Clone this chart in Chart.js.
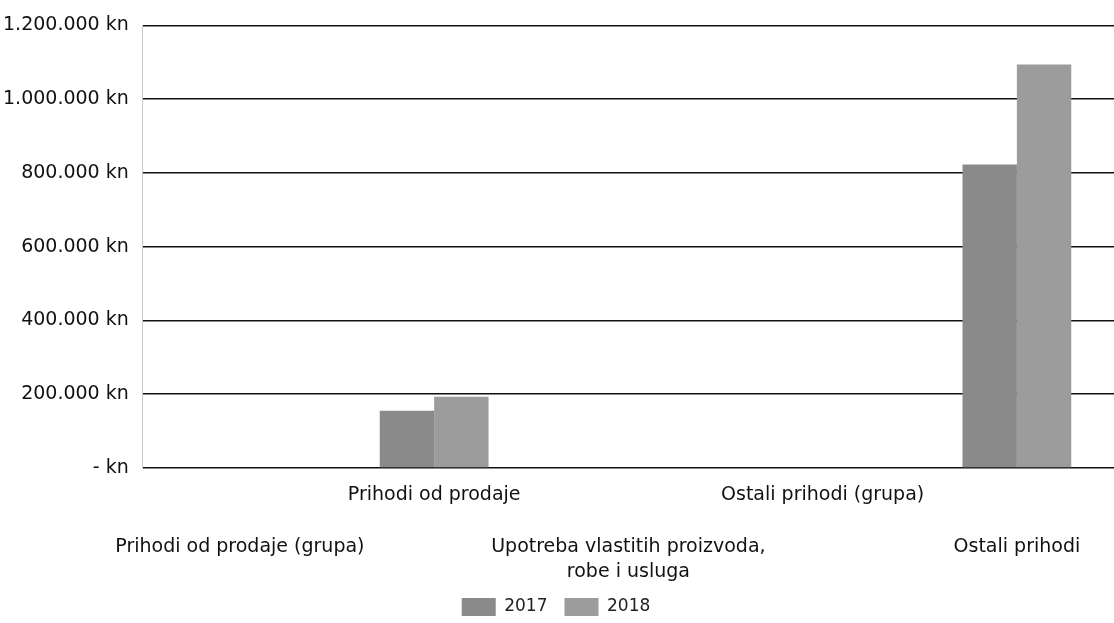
<!DOCTYPE html>
<html>
<head>
<meta charset="utf-8">
<script src="https://cdn.jsdelivr.net/npm/chart.js@4"></script>
<style>
  html, body { margin: 0; padding: 0; background: #fff; }
  #wrap { width: 1114px; height: 623px; position: relative; }
</style>
</head>
<body>
<div id="wrap"><canvas id="c"></canvas></div>
<script>
const categories = [
  'Prihodi od prodaje (grupa)',
  'Prihodi od prodaje',
  ['Upotreba vlastitih proizvoda,', 'robe i usluga'],
  'Ostali prihodi (grupa)',
  'Ostali prihodi'
];
const labelRow = [2, 1, 2, 1, 2];
const values2017 = [null, 155000, null, null, 823000];
const values2018 = [null, 193000, null, null, 1094000];
const yTickValues = [0, 200000, 400000, 600000, 800000, 1000000, 1200000];
const yTickLabels = ['- kn', '200.000 kn', '400.000 kn', '600.000 kn', '800.000 kn', '1.000.000 kn', '1.200.000 kn'];

const FONT = "'DejaVu Sans', sans-serif";

new Chart(document.getElementById('c'), {
  type: 'bar',
  data: {
    labels: categories.map((c, i) => i),
    datasets: [
      { label: '2017', data: values2017, backgroundColor: '#8a8a8a', borderWidth: 0,
        categoryPercentage: 0.56, barPercentage: 1.0 },
      { label: '2018', data: values2018, backgroundColor: '#9c9c9c', borderWidth: 0,
        categoryPercentage: 0.56, barPercentage: 1.0 }
    ]
  },
  options: {
    responsive: true,
    maintainAspectRatio: false,
    animation: false,
    layout: { autoPadding: false, padding: { top: 11, right: -9, left: -11, bottom: -3 } },
    plugins: {
      legend: {
        position: 'bottom',
        labels: {
          boxWidth: 34, boxHeight: 18, padding: 17,
          color: '#222',
          font: { family: FONT, size: 17 }
        }
      },
      tooltip: { enabled: false }
    },
    scales: {
      x: {
        grid: { display: false, drawTicks: false },
        border: { display: false },
        afterFit: function(scale) { scale.height = 113; scale.paddingRight = -9; },
        ticks: {
          autoSkip: false, maxRotation: 0, minRotation: 0,
          padding: 14,
          color: '#111',
          font: { family: FONT, size: 19, lineHeight: 1.36 },
          callback: function(v, i) {
            const c = categories[i];
            const lines = Array.isArray(c) ? c : [c];
            return labelRow[i] === 2 ? ['', ''].concat(lines) : lines;
          }
        }
      },
      y: {
        min: 0, max: 1200000,
        afterBuildTicks: function(axis) { axis.ticks = yTickValues.map(v => ({ value: v })); },
        grid: { color: '#111', lineWidth: 1.6, drawTicks: false },
        border: { display: true, color: '#cccccc', width: 1 },
        ticks: {
          padding: 14,
          color: '#111',
          font: { family: FONT, size: 19 },
          callback: function(v) { return yTickLabels[yTickValues.indexOf(v)]; }
        }
      }
    }
  }
});
</script>
</body>
</html>
